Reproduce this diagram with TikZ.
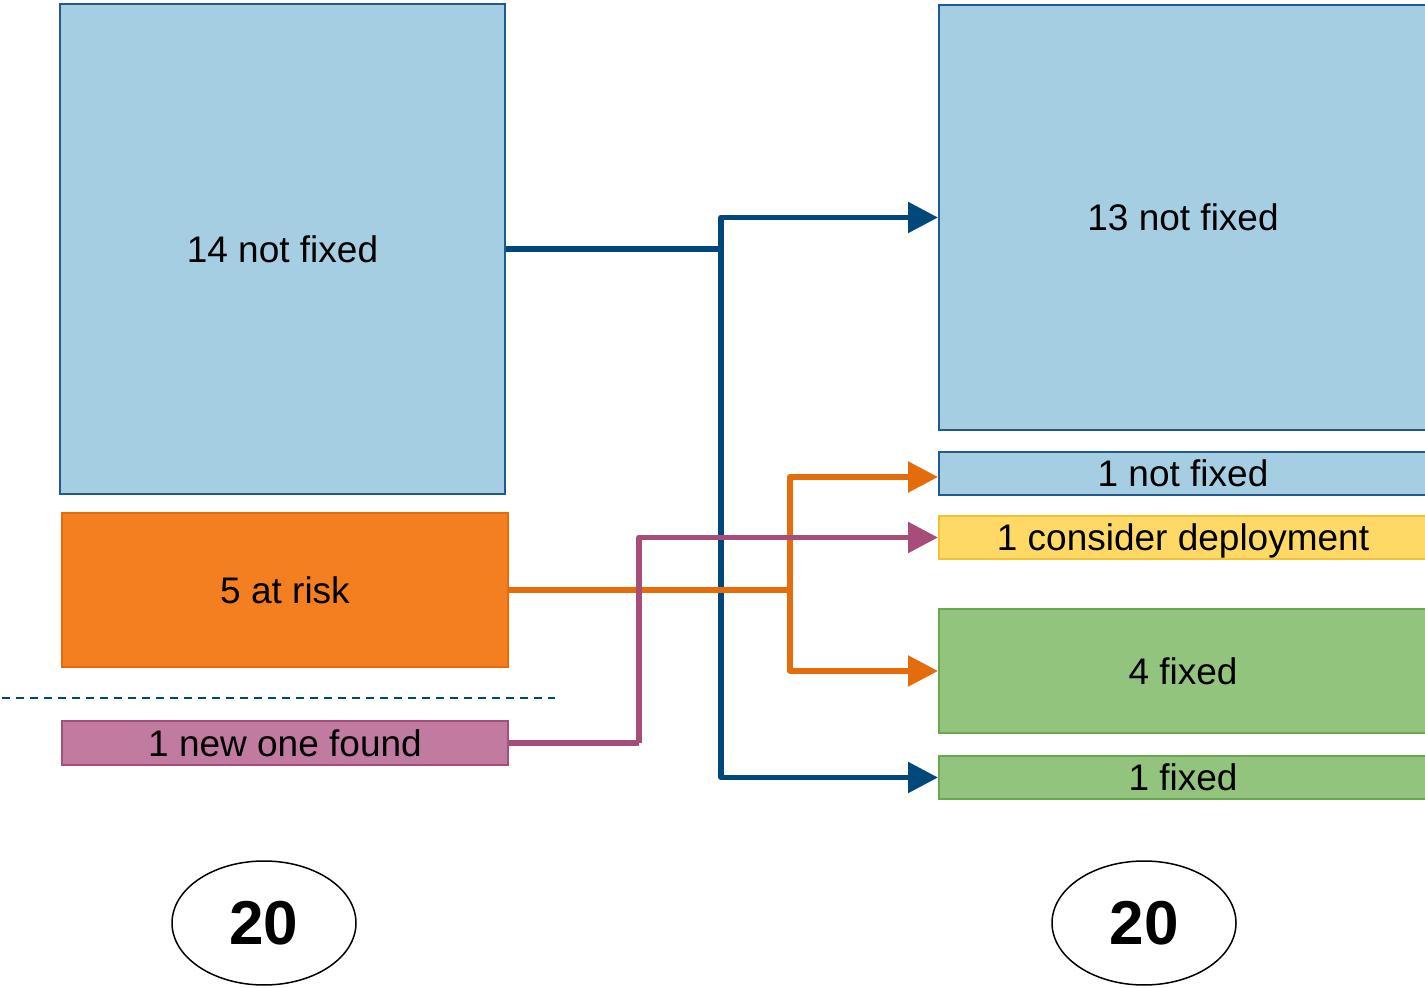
\documentclass[tikz,border=0pt]{standalone}
\usepackage{fontspec}
\setmainfont{Liberation Sans}
\usetikzlibrary{arrows.meta,shapes.geometric}
\definecolor{lblue}{HTML}{A6CEE3}
\definecolor{bblue}{HTML}{1F5A91}
\definecolor{ofill}{HTML}{F47F20}
\definecolor{oline}{HTML}{E46C0A}
\definecolor{pfill}{HTML}{C27BA0}
\definecolor{pline}{HTML}{A64D79}
\definecolor{yfill}{HTML}{FFD966}
\definecolor{yline}{HTML}{F1C232}
\definecolor{gfill}{HTML}{93C47D}
\definecolor{gline}{HTML}{6AA84F}
\definecolor{cblue}{HTML}{00487C}
\begin{document}
\begin{tikzpicture}[x=0.5pt,y=-0.5pt,
  box/.style={rectangle,inner sep=0pt,line width=1pt,text depth=0pt,font=\fontsize{18.5}{22}\selectfont},
  bluebox/.style={box,fill=lblue,draw=bblue},
  orangebox/.style={box,fill=ofill,draw=oline},
  pinkbox/.style={box,fill=pfill,draw=pline},
  yellowbox/.style={box,fill=yfill,draw=yline},
  greenbox/.style={box,fill=gfill,draw=gline},
  conn/.style={line width=2.75pt,line join=round,-{Triangle[length=15pt,width=15pt]}},
  plainconn/.style={line width=2.75pt,line join=round},
  total/.style={ellipse,draw=black,line width=0.75pt,minimum width=92pt,minimum height=62pt,inner sep=0pt,font=\fontsize{31}{37}\selectfont\bfseries}]
\useasboundingbox (0,0) rectangle (1425,988);
\clip (0,0) rectangle (1425,988);
% left column
\node[bluebox,minimum width=222.5pt,minimum height=245pt] (A) at (282.5,249) {14 not fixed};
\node[orangebox,minimum width=223pt,minimum height=77pt] (B) at (285,590) {5 at risk};
\node[pinkbox,minimum width=223pt,minimum height=22pt] (C) at (285,743) {1 new one found};
\coordinate (d1) at (2,698);
\coordinate (d2) at (555,698);
\draw[cblue,line width=0.75pt,dash pattern=on 4pt off 3pt] (d1) -- (d2);
% right column
\node[bluebox,minimum width=244pt,minimum height=212.5pt] (R1) at (1183,217.5) {13 not fixed};
\node[bluebox,minimum width=244pt,minimum height=21.5pt] (R2) at (1183,473.5) {1 not fixed};
\node[yellowbox,minimum width=244pt,minimum height=21.5pt] (R3) at (1183,537.5) {1 consider deployment};
\node[greenbox,minimum width=244pt,minimum height=62pt] (R4) at (1183,671) {4 fixed};
\node[greenbox,minimum width=244pt,minimum height=21.5pt] (R5) at (1183,777.5) {1 fixed};
% totals
\node[total] (T1) at (264,923) {20};
\node[total] (T2) at (1144,923) {20};
% connectors
\coordinate (jb) at (721,249);
\coordinate (jo) at (790,590);
\coordinate (jp) at (639,743);
\draw[plainconn,cblue] (A.east) -- (jb);
\draw[conn,cblue] (jb) |- (R1.west);
\draw[conn,cblue] (jb) |- (R5.west);
\draw[plainconn,oline] (B.east) -- (jo);
\draw[conn,oline] (jo) |- ([yshift=-1.75pt]R2.west);
\draw[conn,oline] (jo) |- (R4.west);
\draw[plainconn,pline] (C.east) -- (jp);
\draw[conn,pline] (jp) |- (R3.west);
\end{tikzpicture}
\end{document}
